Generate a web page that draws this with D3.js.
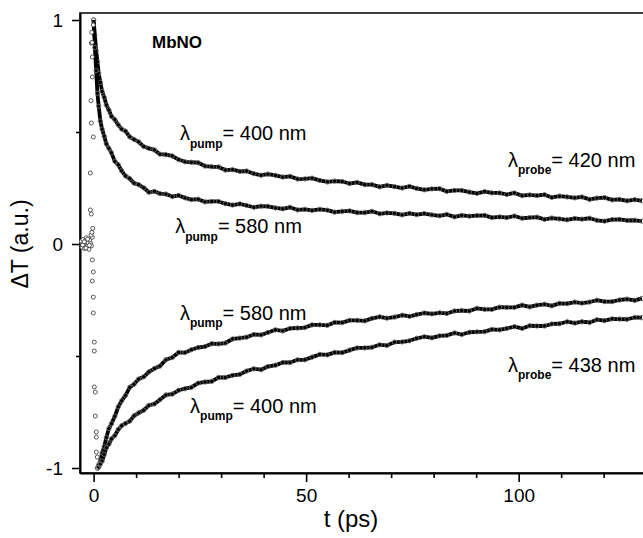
<!DOCTYPE html>
<html>
<head>
<meta charset="utf-8">
<script src="https://cdn.jsdelivr.net/npm/d3@7"></script>
<style>
  html, body { margin: 0; padding: 0; background: #fff; }
  svg { display: block; font-family: "Liberation Sans", Arial, sans-serif; }
</style>
</head>
<body>
<svg id="chart" width="643" height="538"></svg>
<script>
// Sampling times (ps) of the transient traces
const tGrid = [0, 0.3, 0.6, 0.9, 1.2, 1.6, 2.0, 2.5, 3.0, 3.6, 4.2, 5.0, 5.8, 6.6, 7.5, 8.5, 9.5, 10.6, 11.8, 13.0,
  14.3, 15.6, 17.0, 18.5, 20.0, 21.5, 23.0, 24.6, 26.2, 27.8, 29.4, 31.0, 32.7, 34.4, 36.0, 37.7, 39.4, 41.0, 42.8, 44.5,
  46.2, 48.0, 49.7, 51.4, 53.2, 55.0, 56.7, 58.5, 60.2, 62.0, 63.8, 65.5, 67.3, 69.0, 70.8, 72.6, 74.3, 76.0, 77.8, 79.6,
  81.4, 83.1, 84.9, 86.6, 88.4, 90.2, 92.0, 93.7, 95.5, 97.2, 99.0, 100.8, 102.6, 104.3, 106.1, 107.8, 109.6, 111.4, 113.2, 114.9,
  116.7, 118.4, 120.2, 122.0, 123.7, 125.5, 127.3, 129.0];
// the 438 nm traces are taken from their minimum on
const tGrid438 = tGrid.filter(t => t >= 0.9);

// probe 420 nm, pump 400 nm
const probe420pump400 = [1.000, 0.933, 0.863, 0.814, 0.762, 0.721, 0.681, 0.655, 0.621, 0.598, 0.570, 0.555, 0.532, 0.513, 0.504, 0.478, 0.467, 0.456, 0.435, 0.427,
  0.420, 0.401, 0.399, 0.393, 0.377, 0.367, 0.365, 0.363, 0.348, 0.345, 0.344, 0.330, 0.332, 0.324, 0.326, 0.314, 0.307, 0.312, 0.306, 0.299,
  0.302, 0.290, 0.291, 0.294, 0.284, 0.277, 0.281, 0.279, 0.270, 0.275, 0.265, 0.265, 0.255, 0.262, 0.256, 0.250, 0.257, 0.248, 0.242, 0.246,
  0.247, 0.235, 0.239, 0.239, 0.232, 0.226, 0.234, 0.228, 0.228, 0.221, 0.228, 0.216, 0.219, 0.216, 0.220, 0.208, 0.214, 0.210, 0.206, 0.210,
  0.199, 0.205, 0.207, 0.197, 0.199, 0.193, 0.198, 0.193];
// probe 420 nm, pump 580 nm
const probe420pump580 = [1.000, 0.877, 0.774, 0.673, 0.615, 0.549, 0.513, 0.481, 0.447, 0.427, 0.407, 0.369, 0.354, 0.327, 0.304, 0.292, 0.272, 0.265, 0.251, 0.231,
  0.235, 0.225, 0.223, 0.212, 0.217, 0.206, 0.198, 0.200, 0.188, 0.190, 0.190, 0.180, 0.174, 0.179, 0.172, 0.164, 0.169, 0.168, 0.161, 0.157,
  0.164, 0.152, 0.155, 0.150, 0.155, 0.151, 0.142, 0.146, 0.148, 0.140, 0.140, 0.146, 0.135, 0.139, 0.137, 0.130, 0.137, 0.131, 0.136, 0.130,
  0.126, 0.132, 0.121, 0.128, 0.124, 0.127, 0.128, 0.118, 0.121, 0.118, 0.125, 0.115, 0.118, 0.120, 0.110, 0.116, 0.112, 0.108, 0.114, 0.111,
  0.115, 0.106, 0.102, 0.109, 0.110, 0.105, 0.106, 0.102];
// probe 438 nm, pump 580 nm
const probe438pump580 = [-1.000, -0.986, -0.968, -0.933, -0.905, -0.864, -0.824, -0.802, -0.769, -0.727, -0.700, -0.676, -0.640, -0.626, -0.603, -0.593, -0.571,
  -0.556, -0.545, -0.517, -0.507, -0.484, -0.485, -0.472, -0.462, -0.458, -0.445, -0.446, -0.442, -0.424, -0.420, -0.416, -0.404, -0.406, -0.395,
  -0.383, -0.388, -0.377, -0.375, -0.373, -0.361, -0.361, -0.363, -0.350, -0.351, -0.341, -0.341, -0.343, -0.332, -0.325, -0.331, -0.326, -0.318,
  -0.323, -0.315, -0.308, -0.312, -0.307, -0.310, -0.299, -0.297, -0.299, -0.287, -0.292, -0.292, -0.282, -0.283, -0.283, -0.273, -0.281, -0.273,
  -0.269, -0.276, -0.265, -0.266, -0.259, -0.264, -0.259, -0.251, -0.257, -0.257, -0.250, -0.246, -0.252, -0.243];
// probe 438 nm, pump 400 nm
const probe438pump400 = [-1.000, -0.997, -0.982, -0.969, -0.939, -0.910, -0.893, -0.870, -0.855, -0.828, -0.811, -0.801, -0.791, -0.767, -0.754, -0.742, -0.720,
  -0.714, -0.695, -0.674, -0.670, -0.653, -0.646, -0.640, -0.621, -0.616, -0.613, -0.596, -0.596, -0.586, -0.582, -0.567, -0.557, -0.561, -0.547,
  -0.541, -0.529, -0.529, -0.517, -0.517, -0.505, -0.493, -0.495, -0.484, -0.485, -0.474, -0.464, -0.464, -0.461, -0.450, -0.453, -0.438, -0.437,
  -0.432, -0.421, -0.414, -0.419, -0.410, -0.408, -0.397, -0.404, -0.394, -0.392, -0.391, -0.381, -0.383, -0.377, -0.369, -0.377, -0.365, -0.366,
  -0.366, -0.357, -0.356, -0.347, -0.353, -0.347, -0.350, -0.338, -0.342, -0.334, -0.335, -0.336, -0.328, -0.329];

// points before time zero and on the instrument-limited edge (all four traces)
const edgeT = [-2.9, -2.7, -2.5, -2.3, -2.1, -1.9, -1.7, -1.5, -1.3, -1.1, -0.9, -0.7, -0.5, -0.3,
  -2.6, -2.2, -1.8, -1.4, -1.0, -0.6, -0.4, -0.2,
  -0.07, -0.54, -0.30, -0.30, -0.54, -0.07, -0.78, -0.78, -0.54, -0.45, -0.62, -0.35,
  -0.30, -0.07, -0.30, -0.07, -0.07, 0.16, 0.16, 0.16, 0.40, 0.40, 0.64, 0.64, 0.64, 0.87];
const edgeV = [0.012, -0.015, 0.020, 0.004, -0.020, 0.015, 0.028, -0.010, 0.006, -0.024, 0.018, 0.002, -0.008, 0.030,
  -0.004, 0.010, -0.018, 0.022, -0.006, 0.040, 0.052, 0.070,
  0.978, 0.897, 0.835, 0.746, 0.540, 0.478, 0.317, 0.152, 0.134, 0.945, 0.640, 0.900,
  -0.071, -0.125, -0.165, -0.237, -0.308, -0.438, -0.478, -0.638, -0.661, -0.768, -0.839, -0.862, -0.929, -0.951];

const xMajor = [0, 50, 100];
const xMinor = [10, 20, 30, 40, 60, 70, 80, 90, 110, 120, 130];
const yMajor = [-1, 0, 1];
const yMinor = [-0.5, 0.5];

const traces = [
  { t: tGrid, v: probe420pump400 },
  { t: tGrid, v: probe420pump580 },
  { t: tGrid438, v: probe438pump580 },
  { t: tGrid438, v: probe438pump400 }
];

// annotation anchors in data units (left edge of the lambda, text baseline)
const notes = [
  { t: 20.3, v: 0.464, sub: "pump", rest: "= 400 nm" },
  { t: 19.2, v: 0.049, sub: "pump", rest: "= 580 nm" },
  { t: 97.5, v: 0.344, sub: "probe", rest: "= 420 nm" },
  { t: 20.3, v: -0.339, sub: "pump", rest: "= 580 nm" },
  { t: 22.7, v: -0.754, sub: "pump", rest: "= 400 nm" },
  { t: 97.5, v: -0.571, sub: "probe", rest: "= 438 nm" }
];

const svg = d3.select("#chart");
const mLeft = 80, mRight = 667, mTop = 13, mBottom = 473;

const x = d3.scaleLinear().domain([-3.2, 134.9]).range([mLeft, mRight]);
const y = d3.scaleLinear().domain([-1.0223, 1.0313]).range([mBottom, mTop]);

// frame
svg.append("rect")
  .attr("x", mLeft).attr("y", mTop)
  .attr("width", mRight - mLeft).attr("height", mBottom - mTop)
  .attr("fill", "none").attr("stroke", "#000").attr("stroke-width", 1.5);

const fmt = d => String(d);

// x axis
const gx = svg.append("g").attr("transform", `translate(0,${mBottom})`);
gx.call(d3.axisBottom(x).tickValues(xMajor).tickSize(9).tickSizeOuter(0).tickPadding(7).tickFormat(fmt));
const gxm = svg.append("g").attr("transform", `translate(0,${mBottom})`);
gxm.call(d3.axisBottom(x).tickValues(xMinor).tickSize(5).tickSizeOuter(0).tickFormat(""));
gxm.select(".domain").remove();

// y axis
const gy = svg.append("g").attr("transform", `translate(${mLeft},0)`);
gy.call(d3.axisLeft(y).tickValues(yMajor).tickSize(8).tickSizeOuter(0).tickPadding(9).tickFormat(fmt));
const gym = svg.append("g").attr("transform", `translate(${mLeft},0)`);
gym.call(d3.axisLeft(y).tickValues(yMinor).tickSize(4).tickSizeOuter(0).tickFormat(""));
gym.select(".domain").remove();

svg.selectAll(".domain").attr("stroke-width", 2);
svg.selectAll(".tick line").attr("stroke-width", 1.6);
svg.selectAll(".tick text")
  .attr("font-family", "'Liberation Sans', Arial, sans-serif")
  .attr("font-size", 19).attr("fill", "#000");

// axis titles
svg.append("text")
  .attr("x", 351).attr("y", 527)
  .attr("text-anchor", "middle")
  .attr("font-size", 24)
  .text("t (ps)");
svg.append("text")
  .attr("transform", "translate(28,244) rotate(-90)")
  .attr("text-anchor", "middle")
  .attr("font-size", 23)
  .text("ΔT (a.u.)");

// traces
const line = d3.line().x(d => x(d[0])).y(d => y(d[1]));
const plot = svg.append("g");
traces.forEach(tr => {
  const pts = tr.t.map((t, i) => [t, tr.v[i]]);
  plot.append("path")
    .attr("d", line(pts))
    .attr("fill", "none")
    .attr("stroke", "#000")
    .attr("stroke-width", 3.8)
    .attr("stroke-linejoin", "round");
  plot.selectAll(null).data(pts).enter().append("circle")
    .attr("cx", d => x(d[0])).attr("cy", d => y(d[1]))
    .attr("r", 2.2)
    .attr("fill", "none")
    .attr("stroke", "#6a6a6a")
    .attr("stroke-width", 0.9);
});

// scattered points on the rising edge
plot.selectAll(null).data(edgeT.map((t, i) => [t, edgeV[i]])).enter().append("circle")
  .attr("cx", d => x(d[0])).attr("cy", d => y(d[1]))
  .attr("r", 2)
  .attr("fill", "#fff")
  .attr("stroke", "#444")
  .attr("stroke-width", 0.9);

// sample name
svg.append("text")
  .attr("x", 152).attr("y", 48)
  .attr("font-size", 17).attr("font-weight", "bold")
  .text("MbNO");

// wavelength annotations
notes.forEach(n => {
  const tx = svg.append("text")
    .attr("x", x(n.t)).attr("y", y(n.v))
    .attr("font-size", 20);
  tx.append("tspan").text("λ");
  tx.append("tspan").attr("dy", 7.5).attr("font-size", 12).attr("font-weight", "bold").text(n.sub);
  tx.append("tspan").attr("dy", -7.5).text(n.rest);
});
</script>
</body>
</html>
